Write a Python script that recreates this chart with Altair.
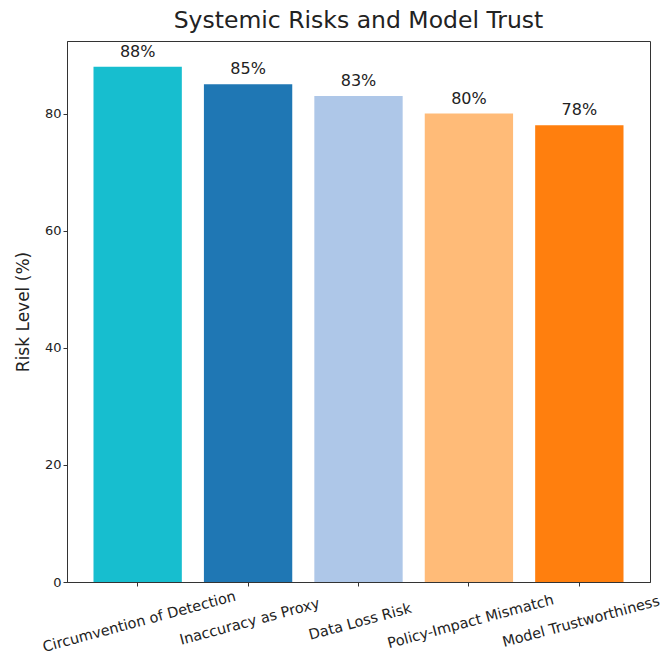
import altair as alt
import pandas as pd

categories = ["Circumvention of Detection", "Inaccuracy as Proxy", "Data Loss Risk",
              "Policy-Impact Mismatch", "Model Trustworthiness"]
values = [88, 85, 83, 80, 78]
colors = ["#17becf", "#1f77b4", "#aec7e8", "#ffbb78", "#ff7f0e"]
labels = [f"{v}%" for v in values]

df = pd.DataFrame({"category": categories, "value": values, "label": labels})

FONT = "DejaVu Sans"

x = alt.X("category:N", sort=categories,
          scale=alt.Scale(paddingInner=0.2, paddingOuter=0.24),
          axis=alt.Axis(title=None, labelAngle=-15, labelAlign="center", labelBaseline="top",
                        labelFontSize=14.5, labelFont=FONT, labelColor="#222",
                        labelLimit=0, labelOverlap=False,
                        tickSize=4, tickColor="#333", domainColor="#333", labelPadding=29))
y = alt.Y("value:Q", scale=alt.Scale(domain=[0, 92.4], nice=False),
          axis=alt.Axis(title="Risk Level (%)", values=[0, 20, 40, 60, 80], grid=False,
                        titleFont=FONT, titleFontSize=17, titleFontWeight="normal",
                        titleColor="#222", labelFont=FONT, labelFontSize=13,
                        labelColor="#222", tickSize=4, tickColor="#333",
                        domainColor="#333", titlePadding=12))

bars = alt.Chart(df).mark_bar().encode(
    x=x, y=y,
    color=alt.Color("category:N", sort=categories,
                    scale=alt.Scale(domain=categories, range=colors), legend=None),
)

text = alt.Chart(df).mark_text(baseline="alphabetic", dy=-10, font=FONT, fontSize=16,
                               color="#222").encode(
    x=alt.X("category:N", sort=categories),
    y=alt.Y("value:Q"),
    text="label:N",
)

chart = alt.layer(bars, text).properties(
    width=583, height=541,
    title=alt.TitleParams("Systemic Risks and Model Trust", font=FONT, fontSize=23.5,
                          fontWeight="normal", color="#222", offset=9),
    autosize=alt.AutoSizeParams(type="none"),
    padding={"left": 67, "top": 41, "right": 10, "bottom": 76},
).configure_view(stroke="#333", strokeWidth=1)

chart.save("out.html", embed_options={"renderer": "svg", "actions": False})
